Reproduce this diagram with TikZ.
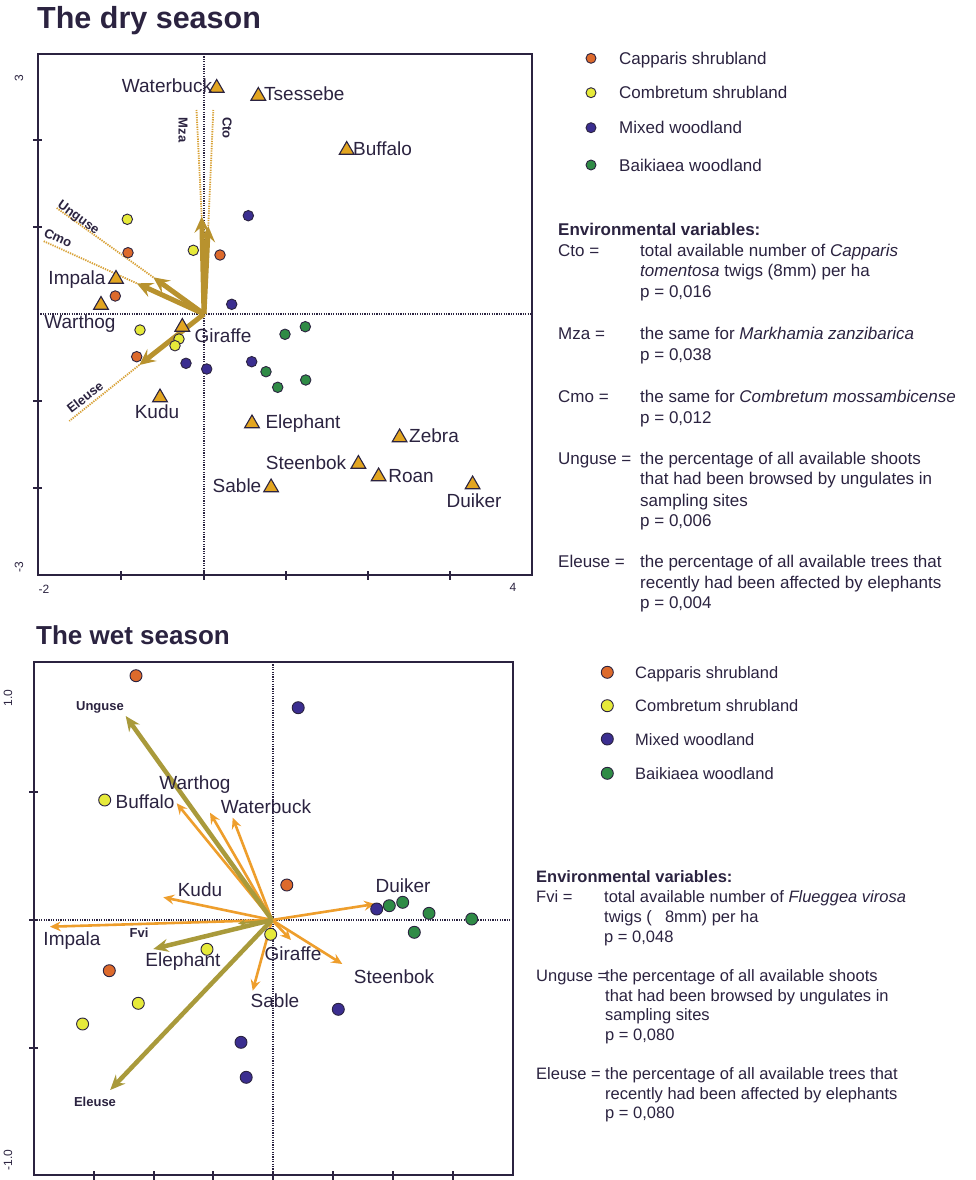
\documentclass[tikz,border=0pt]{standalone}
\usepackage{fontspec}
\setmainfont{Liberation Sans}
\usetikzlibrary{arrows.meta,shapes.geometric}
\newcommand\myfs[1]{\fontsize{#1}{#1}\selectfont}
\definecolor{ink}{HTML}{2B2340}
\definecolor{trigold}{HTML}{E2A520}
\definecolor{thickgold}{HTML}{B8922E}
\definecolor{extgold}{HTML}{D8A135}
\definecolor{olivec}{HTML}{A99A3B}
\definecolor{thinor}{HTML}{EE9E2C}
\definecolor{cappc}{HTML}{DD6A2C}
\definecolor{combc}{HTML}{E6EA3A}
\definecolor{mixc}{HTML}{3B2E90}
\definecolor{baikc}{HTML}{2F8B46}
\tikzset{
  frame/.style={draw=ink, line width=1.8pt},
  axisdot/.style={draw=ink, line width=1.2pt, dash pattern=on 1.2pt off 1.2pt},
  tickm/.style={draw=ink, line width=1.4pt},
  tri/.style={regular polygon, regular polygon sides=3, fill=trigold, draw=ink, line width=1.1pt, minimum size=17pt, inner sep=0pt},
  dotA/.style={circle, draw=ink, line width=0.9pt, minimum size=10.5pt, inner sep=0pt},
  big/.style={minimum size=12pt},
  capp/.style={dotA, fill=cappc}, comb/.style={dotA, fill=combc},
  mixw/.style={dotA, fill=mixc}, baik/.style={dotA, fill=baikc},
  lbl/.style={text=ink, font=\myfs{19}, inner sep=0pt, text height=14pt, text depth=3pt},
  vlbl/.style={text=ink, font=\bfseries\myfs{13}, inner sep=0pt},
  tick/.style={text=ink, font=\myfs{12}, inner sep=0pt},
  ttl/.style={text=ink, font=\bfseries\myfs{26}, inner sep=0pt, anchor=west},
  leg/.style={text=ink, font=\myfs{17}, inner sep=0pt, anchor=mid west, yshift=-3.5pt},
  legb/.style={text=ink, font=\myfs{16.5}, inner sep=0pt, anchor=mid west, yshift=-3.5pt},
  thickA/.style={line width=5pt, draw=thickgold, -{Stealth[length=16pt,width=15pt,inset=6pt]}},
  extL/.style={draw=extgold, line width=1.8pt, dash pattern=on 1.3pt off 1.1pt},
  oliveA/.style={line width=4.5pt, draw=olivec, -{Stealth[length=15pt,width=13pt,inset=5pt]}},
  thinA/.style={line width=2.6pt, draw=thinor, -{Stealth[length=11pt,width=10pt,inset=4pt]}},
}
\begin{document}
\begin{tikzpicture}[x=1pt,y=-1pt]
\useasboundingbox (0,0) rectangle (976,1180);
\fill[white] (0,0) rectangle (976,1180);

% ================= DRY SEASON =================
\node[ttl, font=\bfseries\myfs{30.5}] (t1) at (37,21) {The dry season};
\draw[frame] (38,54) rectangle (532,575);
\draw[axisdot] (38,314) -- (532,314);
\draw[axisdot] (204,54) -- (204,575);
\foreach \yy in {140,227,401,488} \draw[tickm] (33,\yy) -- (42,\yy);
\foreach \xx in {121,204,286,368,450} \draw[tickm] (\xx,571) -- (\xx,580);
\node[tick, rotate=90] (ty3) at (19,78) {3};
\node[tick, rotate=90] (tym3) at (19,567) {-3};
\node[tick] (txm2) at (44,589) {-2};
\node[tick] (tx4) at (513,587) {4};

% environmental arrows
\coordinate (o1) at (204,314);
\coordinate (mza) at (201.7,216.5);
\coordinate (mzaE) at (196.5,110);
\coordinate (cto) at (208.3,226);
\coordinate (ctoE) at (213.3,110);
\coordinate (ung) at (153.3,277.3);
\coordinate (ungE) at (56.7,208);
\coordinate (cmo) at (136.7,283.3);
\coordinate (cmoE) at (43.3,241);
\coordinate (ele) at (139.3,365);
\coordinate (eleE) at (69.3,421);
\draw[extL] (mza) -- (mzaE);
\draw[extL] (cto) -- (ctoE);
\draw[extL] (ung) -- (ungE);
\draw[extL] (cmo) -- (cmoE);
\draw[extL] (ele) -- (eleE);
\draw[thickA] (o1) -- (mza);
\draw[thickA] (o1) -- (cto);
\draw[thickA] (o1) -- (ung);
\draw[thickA] (o1) -- (cmo);
\draw[thickA] (o1) -- (ele);
\node[vlbl, rotate=-90] (lmza) at (183,130) {Mza};
\node[vlbl, rotate=-90] (lcto) at (227,128) {Cto};
\node[vlbl, rotate=-36] (lung) at (78,218) {Unguse};
\node[vlbl, rotate=-24.5] (lcmo) at (58,238) {Cmo};
\node[vlbl, rotate=38] (lele) at (85,397) {Eleuse};

% sites
\foreach \x/\y [count=\i] in {128/252.7, 220/255, 115.3/296, 136.7/356.7}
  \node[capp] (dc\i) at (\x,\y) {};
\foreach \x/\y [count=\i] in {127.3/219.3, 193.3/250.3, 140/330, 179/339, 175/345.7}
  \node[comb] (dy\i) at (\x,\y) {};
\foreach \x/\y [count=\i] in {248.3/215.7, 231.7/304.3, 186/363.3, 206.7/369, 251.7/361.7}
  \node[mixw] (dm\i) at (\x,\y) {};
\foreach \x/\y [count=\i] in {285/334.3, 305.3/326.7, 266/371.7, 277.7/387.3, 305.7/380}
  \node[baik] (db\i) at (\x,\y) {};

% species
\node[tri] (sWaterbuck) at (216.7,88) {};
\node[lbl] (nWaterbuck) at (167,87) {Waterbuck};
\node[tri] (sTsessebe) at (258.3,96) {};
\node[lbl, anchor=west] (nTsessebe) at (264,95) {Tsessebe};
\node[tri] (sBuffalo) at (346.7,150) {};
\node[lbl, anchor=west] (nBuffalo) at (353,150) {Buffalo};
\node[tri] (sImpala) at (116,279) {};
\node[lbl] (nImpala) at (77,279) {Impala};
\node[tri] (sWarthog) at (101,305) {};
\node[lbl] (nWarthog) at (80,323) {Warthog};
\node[tri] (sGiraffe) at (182.3,327) {};
\node[lbl] (nGiraffe) at (223,337) {Giraffe};
\node[tri] (sKudu) at (160,397.5) {};
\node[lbl] (nKudu) at (157,413) {Kudu};
\node[tri] (sElephant) at (252,423.5) {};
\node[lbl] (nElephant) at (303,423) {Elephant};
\node[tri] (sZebra) at (399.6,437.5) {};
\node[lbl] (nZebra) at (434,437) {Zebra};
\node[tri] (sSteenbok) at (358.4,464) {};
\node[lbl] (nSteenbok) at (306,464) {Steenbok};
\node[tri] (sRoan) at (378.6,476.5) {};
\node[lbl] (nRoan) at (411,477) {Roan};
\node[tri] (sSable) at (271.1,487.5) {};
\node[lbl] (nSable) at (237,487) {Sable};
\node[tri] (sDuiker) at (472.6,484.5) {};
\node[lbl] (nDuiker) at (474,502) {Duiker};

% legend top
\node[capp, minimum size=10pt] (lg1) at (591,58.3) {};
\node[comb, minimum size=10pt] (lg2) at (591,92.7) {};
\node[mixw, minimum size=10pt] (lg3) at (591,127.7) {};
\node[baik, minimum size=10pt] (lg4) at (591,165) {};
\node[leg] (lgt1) at (619,58.3) {Capparis shrubland};
\node[leg] (lgt2) at (619,92.7) {Combretum shrubland};
\node[leg] (lgt3) at (619,127.7) {Mixed woodland};
\node[leg] (lgt4) at (619,165) {Baikiaea woodland};

% environmental variables top
\node[leg, font=\bfseries\myfs{17}] (ev1) at (558,229) {Environmental variables:};
\node[leg] (k1) at (558,250.7) {Cto =};
\node[leg] (v1a) at (640,250.7) {total available number of \textit{Capparis}};
\node[leg] (v1b) at (640,270.7) {\textit{tomentosa} twigs (8mm) per ha};
\node[leg] (v1c) at (640,291.7) {p = 0,016};
\node[leg] (k2) at (558,333.3) {Mza =};
\node[leg] (v2a) at (640,333.3) {the same for \textit{Markhamia zanzibarica}};
\node[leg] (v2b) at (640,354.3) {p = 0,038};
\node[leg] (k3) at (558,396) {Cmo =};
\node[leg] (v3a) at (640,396) {the same for \textit{Combretum mossambicense}};
\node[leg] (v3b) at (640,417.7) {p = 0,012};
\node[leg] (k4) at (558,458.3) {Unguse =};
\node[leg] (v4a) at (640,458.3) {the percentage of all available shoots};
\node[leg] (v4b) at (640,478.7) {that had been browsed by ungulates in};
\node[leg] (v4c) at (640,500) {sampling sites};
\node[leg] (v4d) at (640,520.3) {p = 0,006};
\node[leg] (k5) at (558,561.7) {Eleuse =};
\node[leg] (v5a) at (640,561.7) {the percentage of all available trees that};
\node[leg] (v5b) at (640,582) {recently had been affected by elephants};
\node[leg] (v5c) at (640,602.7) {p = 0,004};

% ================= WET SEASON =================
\node[ttl] (t2) at (36,635) {The wet season};
\draw[frame] (34,662) rectangle (513,1175);
\draw[axisdot] (34,920) -- (513,920);
\draw[axisdot] (273,662) -- (273,1175);
\foreach \yy in {792,920,1048} \draw[tickm] (29,\yy) -- (38,\yy);
\foreach \xx in {94,154,213,273,333,393,453} \draw[tickm] (\xx,1171) -- (\xx,1180);
\node[tick, rotate=90] (wy1) at (8,698) {1.0};
\node[tick, rotate=90] (wym1) at (8,1160) {-1.0};

\coordinate (o2) at (272,920);
\coordinate (aBuffalo) at (176.7,803.3);
\coordinate (aWarthog) at (210,812.7);
\coordinate (aWaterbuck) at (232.7,817.7);
\coordinate (aKudu) at (163.3,897.3);
\coordinate (aImpala) at (50,926.7);
\coordinate (aDuiker) at (375,904);
\coordinate (aGiraffe) at (291,940);
\coordinate (aSteenbok) at (342.3,964);
\coordinate (aSable) at (252.7,990.7);
\coordinate (aUng) at (125.7,716);
\coordinate (aEleph) at (153.3,949);
\coordinate (aEle) at (110.2,1090);
\coordinate (aFvi) at (238,923.5);
\foreach \t in {aBuffalo,aWarthog,aWaterbuck,aKudu,aImpala,aDuiker,aGiraffe,aSteenbok,aSable}
  \draw[thinA] (o2) -- (\t);
\draw[oliveA, line width=2pt, -{Stealth[length=8pt,width=7pt,inset=3pt]}] (o2) -- (aFvi);
\draw[oliveA] (o2) -- (aUng);
\draw[oliveA] (o2) -- (aEleph);
\draw[oliveA] (o2) -- (aEle);

\node[vlbl] (wUng) at (100,707) {Unguse};
\node[vlbl] (wEle) at (95,1102) {Eleuse};
\node[vlbl] (wFvi) at (139,933) {Fvi};

\foreach \x/\y [count=\i] in {136/675.7, 286.8/885, 109.3/970.7}
  \node[capp, big] (wc\i) at (\x,\y) {};
\foreach \x/\y [count=\i] in {104.7/800, 270.7/934.3, 207/949.3, 138.3/1003.3, 82.6/1024}
  \node[comb, big] (wy\i) at (\x,\y) {};
\foreach \x/\y [count=\i] in {298.2/707.7, 376.7/909, 338.3/1009.3, 241/1042.3, 246.2/1077.3}
  \node[mixw, big] (wm\i) at (\x,\y) {};
\foreach \x/\y [count=\i] in {389.3/905.7, 402.7/902.3, 429/913.3, 471.7/919, 414.3/932.3}
  \node[baik, big] (wb\i) at (\x,\y) {};

\node[lbl] (wWarthog) at (195,784) {Warthog};
\node[lbl] (wBuffalo) at (145,803) {Buffalo};
\node[lbl] (wWaterbuck) at (266,808) {Waterbuck};
\node[lbl] (wKudu) at (200,891) {Kudu};
\node[lbl] (wDuiker) at (403,887) {Duiker};
\node[lbl] (wImpala) at (72,940) {Impala};
\node[lbl] (wElephant) at (183,961) {Elephant};
\node[lbl] (wGiraffe) at (293,955) {Giraffe};
\node[lbl] (wSteenbok) at (394,978) {Steenbok};
\node[lbl] (wSable) at (275,1002) {Sable};

% legend bottom
\node[capp, big] (bl1) at (607.3,672.3) {};
\node[comb, big] (bl2) at (607.3,705.7) {};
\node[mixw, big] (bl3) at (607.3,739) {};
\node[baik, big] (bl4) at (607.3,773.3) {};
\node[legb] (blt1) at (635,672.3) {Capparis shrubland};
\node[legb] (blt2) at (635,705.7) {Combretum shrubland};
\node[legb] (blt3) at (635,739) {Mixed woodland};
\node[legb] (blt4) at (635,773.3) {Baikiaea woodland};

% environmental variables bottom
\node[legb, font=\bfseries\myfs{16.5}] (bev) at (536,876.7) {Environmental variables:};
\node[legb] (bk1) at (536,896) {Fvi =};
\node[legb] (bv1a) at (604,896) {total available number of \textit{Flueggea virosa}};
\node[legb] (bv1b) at (604,916.7) {twigs (\hspace{0.8em}8mm) per ha};
\node[legb] (bv1c) at (604,936) {p = 0,048};
\node[legb] (bk2) at (536,975) {Unguse =};
\node[legb] (bv2a) at (605,975) {the percentage of all available shoots};
\node[legb] (bv2b) at (605,995) {that had been browsed by ungulates in};
\node[legb] (bv2c) at (605,1014) {sampling sites};
\node[legb] (bv2d) at (605,1034) {p = 0,080};
\node[legb] (bk3) at (536,1073.3) {Eleuse =};
\node[legb] (bv3a) at (605,1073.3) {the percentage of all available trees that};
\node[legb] (bv3b) at (605,1093.3) {recently had been affected by elephants};
\node[legb] (bv3c) at (605,1112.7) {p = 0,080};
\end{tikzpicture}
\end{document}
